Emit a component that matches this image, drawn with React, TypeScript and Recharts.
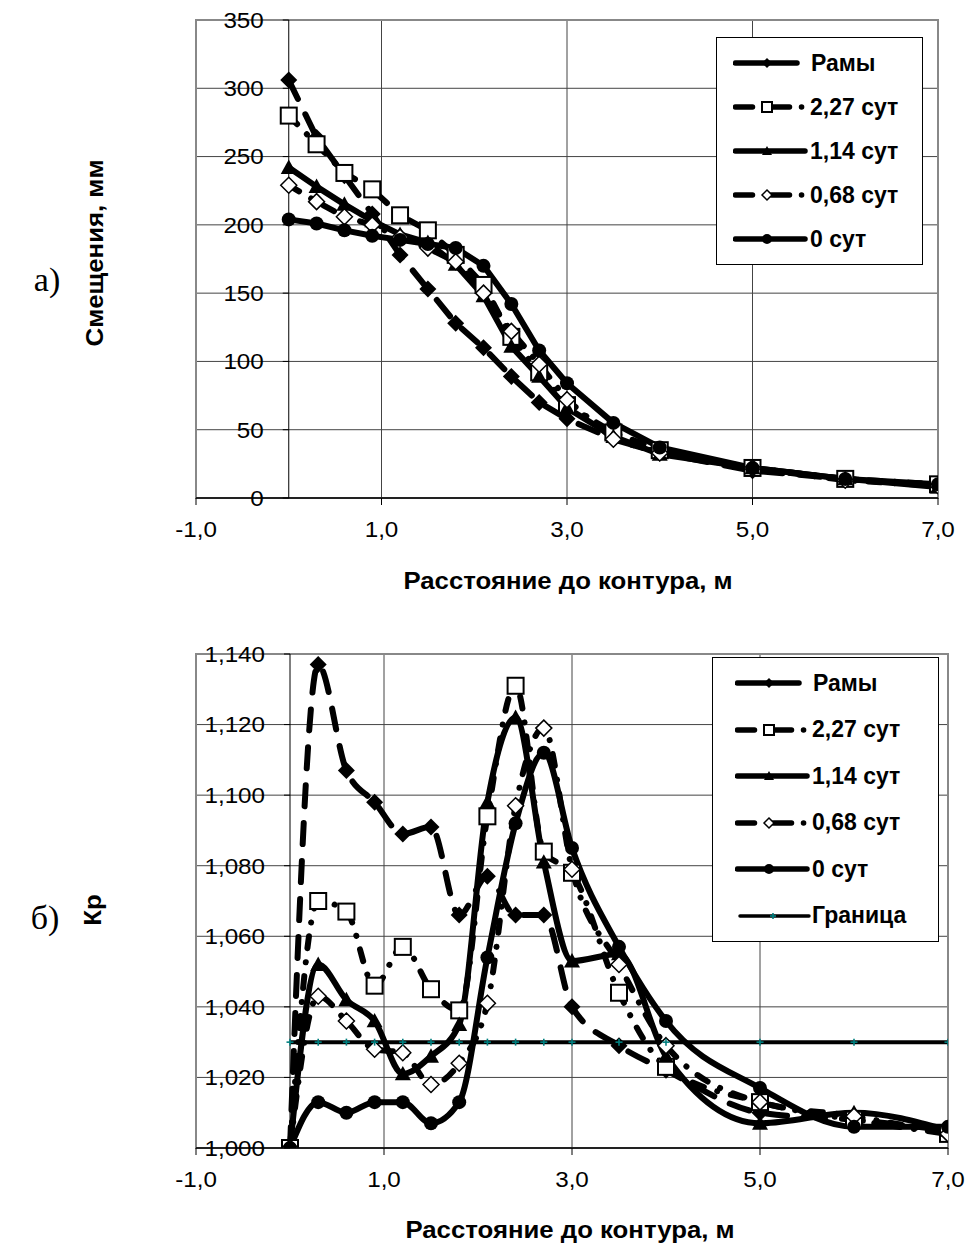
import React from 'react'
import {
  LineChart,
  Line,
  XAxis,
  YAxis,
  CartesianGrid,
  ReferenceLine,
  ReferenceArea,
} from 'recharts'

// distance to the contour, m
const DIST = [0, 0.3, 0.6, 0.9, 1.2, 1.5, 1.8, 2.1, 2.4, 2.7, 3.0, 3.5, 4.0, 5.0, 6.0, 7.0]

// а) displacements, mm
const SHIFT_RAMY = [306, 264, 236, 208, 178, 153, 128, 110, 89, 70, 58, 43, 33, 20, 14, 9]
const SHIFT_227 = [280, 259, 238, 226, 207, 196, 178, 156, 118, 92, 68, 48, 35, 22, 14, 10]
const SHIFT_114 = [242, 228, 215, 203, 193, 187, 171, 148, 111, 89, 66, 45, 32, 22, 14, 8]
const SHIFT_068 = [229, 217, 206, 200, 191, 183, 173, 150, 122, 98, 72, 43, 33, 22, 13, 9]
const SHIFT_0 = [204, 201, 196, 192, 189, 186, 183, 170, 142, 108, 84, 55, 37, 22, 14, 10]

// б) Kp
const KR_RAMY = [1.0, 1.137, 1.107, 1.098, 1.089, 1.091, 1.066, 1.077, 1.066, 1.066, 1.04, 1.029, 1.022, 1.01, 1.008, 1.005]
const KR_227 = [1.0, 1.07, 1.067, 1.046, 1.057, 1.045, 1.039, 1.094, 1.131, 1.084, 1.078, 1.044, 1.023, 1.013, 1.008, 1.004]
const KR_114 = [1.0, 1.052, 1.042, 1.036, 1.021, 1.026, 1.035, 1.098, 1.122, 1.081, 1.053, 1.055, 1.026, 1.007, 1.01, 1.005]
const KR_068 = [1.0, 1.043, 1.036, 1.028, 1.027, 1.018, 1.024, 1.041, 1.097, 1.119, 1.079, 1.052, 1.029, 1.013, 1.009, 1.004]
const KR_0 = [1.0, 1.013, 1.01, 1.013, 1.013, 1.007, 1.013, 1.054, 1.092, 1.112, 1.085, 1.057, 1.036, 1.017, 1.006, 1.006]
const KR_LIMIT = [1.03, 1.03, 1.03, 1.03, 1.03, 1.03, 1.03, 1.03, 1.03, 1.03, 1.03, 1.03, 1.03, 1.03, 1.03, 1.03]

const X_DOMAIN = [-1, 7]
const X_TICKS = [-1, 1, 3, 5, 7]
const SHIFT_TICKS = [0, 50, 100, 150, 200, 250, 300, 350]
const KR_TICKS = [1.0, 1.02, 1.04, 1.06, 1.08, 1.1, 1.12, 1.14]

const FONT = 'Arial, "Liberation Sans", Helvetica, sans-serif'
const SERIF = '"Times New Roman", "Liberation Serif", serif'
const DASH_LONG = '21 17'
const DASH_DOT = '12 14 0.1 14'

const SERIES = [
  { key: 'ramy', name: 'Рамы', marker: 'diamond', size: 17, dash: DASH_LONG },
  { key: 's227', name: '2,27 сут', marker: 'square', size: 16, dash: DASH_DOT },
  { key: 's114', name: '1,14 сут', marker: 'triangle', size: 16 },
  { key: 's068', name: '0,68 сут', marker: 'odiamond', size: 16, dash: DASH_DOT },
  { key: 's0', name: '0 сут', marker: 'circle', size: 14 },
]
const LIMIT = { key: 'limit', name: 'Граница', marker: 'plus', size: 7 }

const shiftData = DIST.map((x, i) => ({
  x,
  ramy: SHIFT_RAMY[i],
  s227: SHIFT_227[i],
  s114: SHIFT_114[i],
  s068: SHIFT_068[i],
  s0: SHIFT_0[i],
}))

const krData = DIST.map((x, i) => ({
  x,
  ramy: KR_RAMY[i],
  s227: KR_227[i],
  s114: KR_114[i],
  s068: KR_068[i],
  s0: KR_0[i],
  limit: KR_LIMIT[i],
}))

const Marker = ({ shape, cx, cy, size }: any) => {
  const h = size / 2
  switch (shape) {
    case 'diamond':
      return <polygon points={`${cx},${cy - h} ${cx + h},${cy} ${cx},${cy + h} ${cx - h},${cy}`} fill="#000" />
    case 'odiamond':
      return (
        <polygon
          points={`${cx},${cy - h} ${cx + h},${cy} ${cx},${cy + h} ${cx - h},${cy}`}
          fill="#fff"
          stroke="#000"
          strokeWidth={1.5}
        />
      )
    case 'square':
      return <rect x={cx - h} y={cy - h} width={size} height={size} fill="#fff" stroke="#000" strokeWidth={2} />
    case 'triangle':
      return <polygon points={`${cx},${cy - h} ${cx + h},${cy + h * 0.8} ${cx - h},${cy + h * 0.8}`} fill="#000" />
    case 'circle':
      return <circle cx={cx} cy={cy} r={h} fill="#000" />
    case 'plus':
      return (
        <g stroke="#008080" strokeWidth={1.6}>
          <line x1={cx - h} x2={cx + h} y1={cy} y2={cy} />
          <line x1={cx} x2={cx} y1={cy - h} y2={cy + h} />
        </g>
      )
    default:
      return null
  }
}

const makeDot = (shape: string, size: number) => (p: any) => {
  const k = `${shape}-${p.index}`
  if (p.cx == null || p.cy == null) return <g key={k} />
  return (
    <g key={k}>
      <Marker shape={shape} cx={p.cx} cy={p.cy} size={size} />
    </g>
  )
}

// y labels sit next to the x = 0 axis, as in the original
const YTick = ({ y, payload, axisX, fmt }: any) => (
  <g>
    <line x1={axisX - 6} x2={axisX} y1={y} y2={y} stroke="#000" />
    <g transform={`translate(${axisX - 25},${y}) scale(1.1,1)`}>
      <text x={0} y={0} dy="0.36em" textAnchor="end" fontSize={22} fill="#000" fontFamily={FONT}>
        {fmt(payload.value)}
      </text>
    </g>
  </g>
)

const XTick = ({ x, y, payload }: any) => (
  <g transform={`translate(${x},${y}) scale(1.1,1)`}>
    <text x={0} y={0} dy="0.71em" textAnchor="middle" fontSize={22} fill="#000" fontFamily={FONT}>
      {fmtX(payload.value)}
    </text>
  </g>
)

const fmtX = (v: number) => v.toFixed(1).replace('.', ',')
const fmtShift = (v: number) => String(v)
const fmtKr = (v: number) => v.toFixed(3).replace('.', ',')

const Panel = ({ data, width, height, box, yDomain, yTicks, yFmt, curve, withLimit }: any) => {
  const axisX = box.left + ((0 - X_DOMAIN[0]) / (X_DOMAIN[1] - X_DOMAIN[0])) * (box.right - box.left)
  return (
    <LineChart
      width={width}
      height={height}
      data={data}
      margin={{ top: box.top, right: width - box.right, left: box.left - 2, bottom: height - box.bottom - 40 }}
    >
      <CartesianGrid stroke="#444" strokeWidth={1} />
      <ReferenceArea
        x1={X_DOMAIN[0]}
        x2={X_DOMAIN[1]}
        y1={yDomain[0]}
        y2={yDomain[1]}
        fill="none"
        fillOpacity={0}
        stroke="#888"
        strokeWidth={2}
      />
      <ReferenceLine x={0} stroke="#000" strokeWidth={1} />
      <XAxis
        type="number"
        dataKey="x"
        domain={X_DOMAIN}
        ticks={X_TICKS}
        allowDataOverflow
        height={40}
        tickSize={7}
        tickMargin={16}
        axisLine={{ stroke: '#000', strokeWidth: 1.5 }}
        tickLine={{ stroke: '#000' }}
        tick={<XTick />}
      />
      <YAxis
        type="number"
        domain={yDomain}
        ticks={yTicks}
        allowDataOverflow
        width={2}
        axisLine={false}
        tickLine={false}
        tick={(p: any) => <YTick {...p} axisX={axisX} fmt={yFmt} />}
      />
      {SERIES.map((s) => (
        <Line
          key={s.key}
          dataKey={s.key}
          name={s.name}
          type={curve}
          stroke="#000"
          strokeWidth={6}
          strokeDasharray={s.dash}
          strokeLinecap="round"
          strokeLinejoin="round"
          dot={makeDot(s.marker, s.size)}
          activeDot={false}
          isAnimationActive={false}
        />
      ))}
      {withLimit && (
        <Line
          dataKey={LIMIT.key}
          name={LIMIT.name}
          type="linear"
          stroke="#000"
          strokeWidth={4}
          dot={makeDot('plus', LIMIT.size)}
          activeDot={false}
          isAnimationActive={false}
        />
      )}
    </LineChart>
  )
}

const LegendBox = ({ items, left, top, width, rowH, pad, sampleLeft }: any) => (
  <div
    style={{
      position: 'absolute',
      left,
      top,
      width,
      boxSizing: 'border-box',
      border: '1.5px solid #000',
      background: '#fff',
      padding: `${pad}px 0`,
      fontFamily: FONT,
    }}
  >
    {items.map((s: any) => {
      const dashDot = s.dash === DASH_DOT
      const isLimit = s.key === 'limit'
      return (
        <div key={s.key} style={{ height: rowH, display: 'flex', alignItems: 'center' }}>
          <svg width={76} height={22} style={{ marginLeft: sampleLeft, flex: 'none' }}>
            {dashDot ? (
              <line x1={2.5} x2={70} y1={11} y2={11} stroke="#000" strokeWidth={5.5} strokeLinecap="round" strokeDasharray="17 19 18 12 0.1 30" />
            ) : (
              <line
                x1={isLimit ? 5 : 2.5}
                x2={isLimit ? 74 : s.key === 'ramy' ? 64 : 72}
                y1={11}
                y2={11}
                stroke="#000"
                strokeWidth={isLimit ? 3.5 : 5.5}
                strokeLinecap="round"
              />
            )}
            <Marker shape={s.marker} cx={isLimit ? 38 : 34} cy={11} size={s.marker === 'plus' ? 6 : 10} />
          </svg>
          <span
            style={{
              fontWeight: 'bold',
              fontSize: 23,
              marginLeft: s.key === 'ramy' ? 2 : 1,
              whiteSpace: 'nowrap',
            }}
          >
            {s.name}
          </span>
        </div>
      )
    })}
  </div>
)

const Label = ({ x, y, text, size, bold, rotate, family, stretch }: any) => (
  <div
    style={{
      position: 'absolute',
      left: x,
      top: y,
      transform: `translate(-50%, -50%)${rotate ? ' rotate(-90deg)' : ''}${stretch ? ` scaleX(${stretch})` : ''}`,
      fontFamily: family || FONT,
      fontSize: size,
      fontWeight: bold ? 'bold' : 'normal',
      whiteSpace: 'nowrap',
      color: '#000',
    }}
  >
    {text}
  </div>
)

export default function App() {
  return (
    <div style={{ position: 'absolute', left: 0, top: 0, width: 971, height: 1250, background: '#fff' }}>
      <div style={{ position: 'absolute', left: 0, top: 0 }}>
        <Panel
          data={shiftData}
          width={971}
          height={540}
          box={{ left: 196, right: 938, top: 20, bottom: 498 }}
          yDomain={[0, 350]}
          yTicks={SHIFT_TICKS}
          yFmt={fmtShift}
          curve="linear"
        />
      </div>
      <LegendBox items={SERIES} left={716} top={37} width={207} rowH={44} pad={3} sampleLeft={16} />
      <Label x={568} y={581} text="Расстояние до контура, м" size={23} bold stretch={1.12} />
      <Label x={95} y={253} text="Смещения, мм" size={23} bold rotate stretch={1.12} />
      <Label x={47} y={280} text="а)" size={34} family={SERIF} />

      <div style={{ position: 'absolute', left: 0, top: 620 }}>
        <Panel
          data={krData}
          width={971}
          height={570}
          box={{ left: 196, right: 948, top: 34, bottom: 528 }}
          yDomain={[1.0, 1.14]}
          yTicks={KR_TICKS}
          yFmt={fmtKr}
          curve="monotone"
          withLimit
        />
      </div>
      <LegendBox items={[...SERIES, LIMIT]} left={712} top={657} width={227} rowH={46.5} pad={2} sampleLeft={22} />
      <Label x={570} y={1230} text="Расстояние до контура, м" size={23} bold stretch={1.12} />
      <Label x={93} y={910} text="Кр" size={23} bold rotate stretch={1.12} />
      <Label x={45} y={918} text="б)" size={34} family={SERIF} />
    </div>
  )
}
